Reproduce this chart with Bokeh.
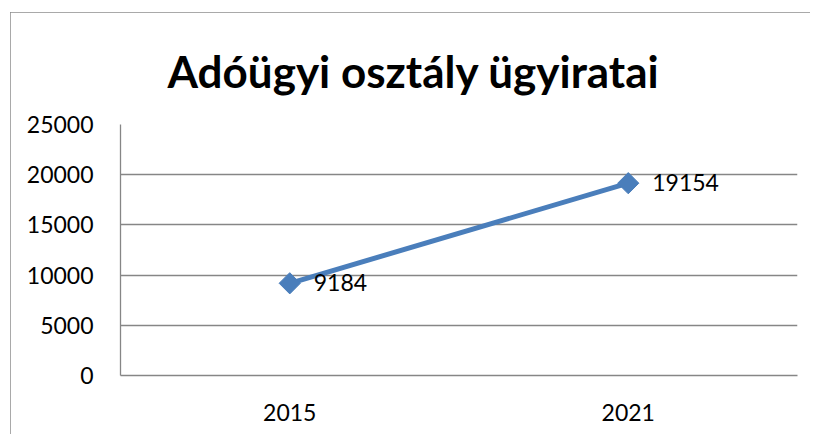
import math
from bokeh.plotting import figure
from bokeh.models import ColumnDataSource, LabelSet, FixedTicker, Title
from bokeh.core.properties import value
from bokeh.embed import file_html
from bokeh.resources import INLINE

title_text = "Adóügyi osztály ügyiratai"
years = ["2015", "2021"]
values = [9184, 19154]
labels = ["9184", "19154"]
y_ticks = [0, 5000, 10000, 15000, 20000, 25000]

FONT = "Lato"
GRAY = "#868686"
BLUE = "#4A7EBB"

src = ColumnDataSource(dict(x=years, y=values, lab=labels))

p = figure(x_range=years, y_range=(0, 25000), width=800, height=422,
           output_backend="svg", toolbar_location=None,
           min_border_left=110, min_border_right=13, min_border_top=112, min_border_bottom=59)
p.x_range.range_padding = 0
p.margin = (12, 0, 0, 10)
p.styles = {"outline": "1.5px solid #8c8c8c", "outline-offset": "-1.5px"}

t = Title(text=title_text, align="left", offset=47, text_font=FONT, text_font_style="bold",
          text_font_size="44px", text_color="black", standoff=55)
p.add_layout(t, "above")
p.title.visible = False

p.outline_line_color = None
p.background_fill_color = "white"
p.border_fill_color = "white"

p.xgrid.grid_line_color = None
p.ygrid.grid_line_color = GRAY
p.ygrid.grid_line_width = 1.3
p.yaxis.ticker = FixedTicker(ticks=y_ticks)

for ax in (p.xaxis, p.yaxis):
    ax.axis_line_color = GRAY
    ax.axis_line_width = 1.3
    ax.major_tick_line_color = None
    ax.minor_tick_line_color = None
    ax.major_label_text_font = FONT
    ax.major_label_text_font_size = "23px"
    ax.major_label_text_color = "black"
p.yaxis.major_label_standoff = 21
p.xaxis.major_label_standoff = 22

p.line("x", "y", source=src, line_color=BLUE, line_width=5)
p.scatter("x", "y", source=src, marker="square", angle=math.pi / 4, size=15,
          fill_color=BLUE, line_color=BLUE)

ls = LabelSet(x="x", y="y", text="lab", source=src, x_offset=24, y_offset=1,
              text_align="left", text_baseline="middle", text_font=value(FONT),
              text_font_size=value("23px"), text_color="black")
p.add_layout(ls)

open("out.html", "w").write(file_html(p, INLINE))
